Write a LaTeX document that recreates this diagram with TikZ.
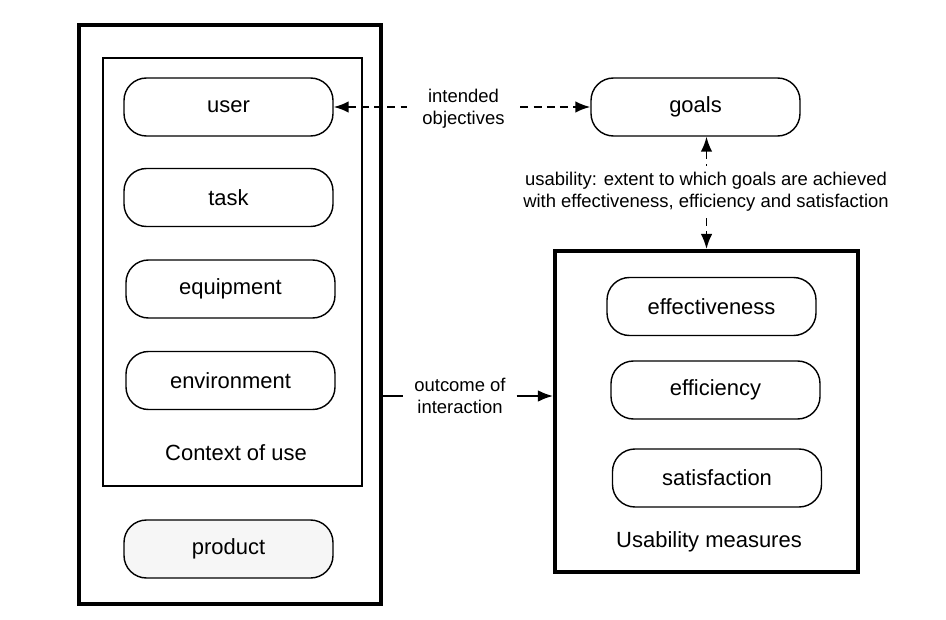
\documentclass[tikz,border=0pt]{standalone}
\usepackage{fontspec}
\setmainfont{Liberation Sans}
\usetikzlibrary{arrows.meta}

\tikzset{
  pill/.style={draw, line width=0.8pt, rounded corners=0.45cm, minimum width=4.18cm, minimum height=1.16cm, font=\fontsize{12.5}{15}\selectfont},
  bigbox/.style={draw, line width=2.3pt},
  lbl/.style={align=center, font=\fontsize{10.5}{12.5}\selectfont, inner xsep=0.25cm},
  dsh/.style={dash pattern=on 4.5pt off 3pt}
}

\begin{document}
\begin{tikzpicture}[>={Latex[length=3mm,width=2.3mm]}, line width=1pt]

\useasboundingbox (0,0) rectangle (18.92,12.38);

\node[bigbox, minimum width=6.04cm, minimum height=11.58cm] (outer) at (4.60,6.09) {};
\node[draw, line width=1.1pt, minimum width=5.18cm, minimum height=8.56cm] (ctx) at (4.65,6.94) {};

\node[pill] (user) at (4.57,10.24) {user};
\node[pill] (task) at (4.57,8.43) {task};
\node[pill] (equip) at (4.61,6.60) {equipment};
\node[pill] (env) at (4.61,4.77) {environment};
\node[font=\fontsize{12.5}{15}\selectfont] (ctxlbl) at (4.72,3.32) {Context of use};
\node[pill, fill=gray!7] (product) at (4.57,1.40) {product};

\node[pill] (goals) at (13.91,10.24) {goals};

\node[bigbox, minimum width=6.06cm, minimum height=6.42cm] (rbox) at (14.13,4.15) {};
\node[pill] (effect) at (14.23,6.25) {effectiveness};
\node[pill] (effic) at (14.31,4.58) {efficiency};
\node[pill] (satis) at (14.34,2.82) {satisfaction};
\node[font=\fontsize{12.5}{15}\selectfont] (rlbl) at (14.18,1.54) {Usability measures};

% intended objectives
\node[lbl, inner xsep=0.3cm] (intobj) at (9.27,10.20) {intended\\objectives};
\draw[<-, dsh] (user.east) -- (intobj.west |- user.east);
\draw[->, dsh] (intobj.east |- goals.west) -- (goals.west);

% usability
\node[lbl, inner xsep=0pt] (usab) at (14.12,8.54) {usability: extent to which goals are achieved\\with effectiveness, efficiency and satisfaction};
\draw[<-, dsh] (rbox.north |- goals.south) -- (usab.north -| rbox.north);
\draw[->, dsh] (usab.south -| rbox.north) -- (rbox.north);

% outcome of interaction
\node[lbl, inner xsep=0.2cm] (outc) at (9.20,4.46) {outcome of\\interaction};
\draw (outer.east |- outc.west) -- (outc.west);
\draw[->] (outc.east) -- (rbox.west |- outc.east);

\end{tikzpicture}
\end{document}
